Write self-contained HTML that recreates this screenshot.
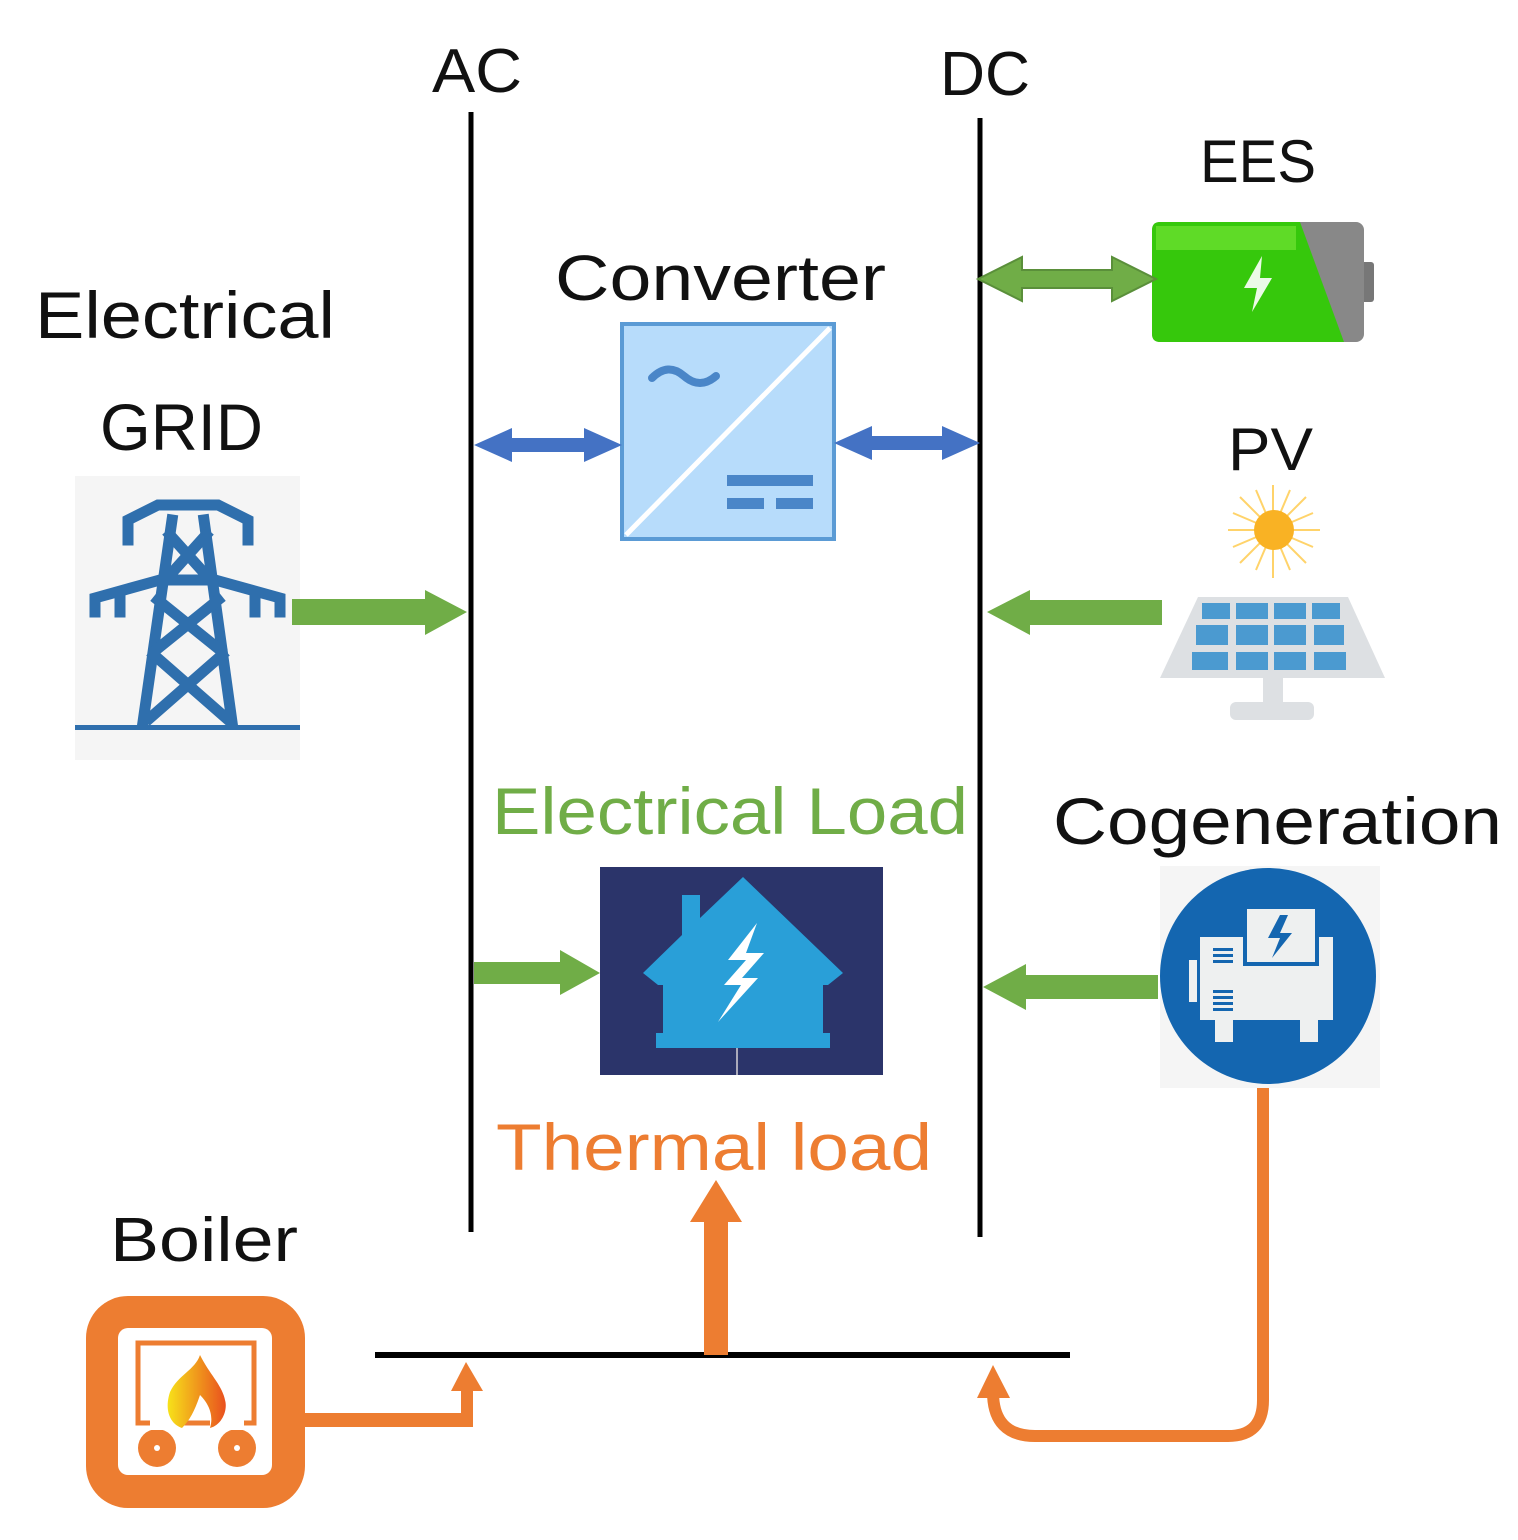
<!DOCTYPE html>
<html><head><meta charset="utf-8"><style>
html,body{margin:0;padding:0;background:#fff;}
svg{display:block;}
text{font-family:"Liberation Sans",sans-serif;}
</style></head><body>
<svg width="1518" height="1540" viewBox="0 0 1518 1540" xmlns="http://www.w3.org/2000/svg">
<!-- labels -->
<text x="432" y="92" font-size="62" textLength="90" lengthAdjust="spacingAndGlyphs" fill="#111">AC</text>
<text x="940" y="95" font-size="62" textLength="90" lengthAdjust="spacingAndGlyphs" fill="#111">DC</text>
<text x="1200" y="182" font-size="60" textLength="116" lengthAdjust="spacingAndGlyphs" fill="#111">EES</text>
<text x="555" y="300" font-size="64" textLength="331" lengthAdjust="spacingAndGlyphs" fill="#111">Converter</text>
<text x="35" y="338" font-size="66" textLength="300" lengthAdjust="spacingAndGlyphs" fill="#111">Electrical</text>
<text x="100" y="450" font-size="66" textLength="163" lengthAdjust="spacingAndGlyphs" fill="#111">GRID</text>
<text x="1228" y="470" font-size="60" textLength="85" lengthAdjust="spacingAndGlyphs" fill="#111">PV</text>
<text x="492" y="834" font-size="66" textLength="476" lengthAdjust="spacingAndGlyphs" fill="#70ad47">Electrical Load</text>
<text x="1053" y="844" font-size="66" textLength="449" lengthAdjust="spacingAndGlyphs" fill="#111">Cogeneration</text>
<text x="496" y="1170" font-size="66" textLength="436" lengthAdjust="spacingAndGlyphs" fill="#ed7d31">Thermal load</text>
<text x="110" y="1261" font-size="62" textLength="188" lengthAdjust="spacingAndGlyphs" fill="#111">Boiler</text>

<!-- buses -->
<line x1="471" y1="112" x2="471" y2="1232" stroke="#000" stroke-width="5"/>
<line x1="980" y1="118" x2="980" y2="1237" stroke="#000" stroke-width="5"/>
<line x1="375" y1="1355" x2="1070" y2="1355" stroke="#000" stroke-width="6"/>

<!-- battery -->
<rect x="1352" y="262" width="22" height="40" rx="3" fill="#777"/>
<rect x="1152" y="222" width="212" height="120" rx="8" fill="#888"/>
<path d="M1160 222 L1300 222 L1344 342 L1160 342 Q1152 342 1152 334 L1152 230 Q1152 222 1160 222 Z" fill="#36c80c"/>
<rect x="1156" y="226" width="140" height="24" fill="#7ce83a" opacity="0.6"/>
<path d="M1262 256 L1244 288 L1257 288 L1252 312 L1272 278 L1260 278 Z" fill="#fff" opacity="0.9"/>
<path d="M978 279 L1022 257 L1022 270 L1112 270 L1112 257 L1156 279 L1112 301 L1112 288 L1022 288 L1022 301 Z" fill="#70ad47" stroke="#5a8f3a" stroke-width="2"/>

<!-- converter -->
<rect x="622" y="324" width="212" height="215" fill="#b7dcfb" stroke="#5b9bd5" stroke-width="4"/>
<line x1="626" y1="535" x2="830" y2="328" stroke="#fff" stroke-width="5"/>
<path d="M652 378 Q668 362 684 376 Q700 390 716 376" fill="none" stroke="#4a86c8" stroke-width="8" stroke-linecap="round"/>
<rect x="727" y="475" width="86" height="11" fill="#4a86c8"/>
<rect x="727" y="498" width="37" height="11" fill="#4a86c8"/>
<rect x="776" y="498" width="37" height="11" fill="#4a86c8"/>
<path d="M474 445 L512 428 L512 438 L584 438 L584 428 L622 445 L584 462 L584 452 L512 452 L512 462 Z" fill="#4472c4"/>
<path d="M834 443 L872 426 L872 436 L942 436 L942 426 L980 443 L942 460 L942 450 L872 450 L872 460 Z" fill="#4472c4"/>

<!-- tower -->
<rect x="75" y="476" width="225" height="284" fill="#f5f5f5"/>
<g stroke="#2f6fad" stroke-width="11" fill="none" stroke-linecap="square">
<path d="M128 540 L128 520 L158 505 L218 505 L248 520 L248 540"/>
<path d="M95 612 L95 598 L160 580 L215 580 L280 598 L280 612"/>
<line x1="120" y1="600" x2="120" y2="612"/><line x1="255" y1="600" x2="255" y2="612"/>
<path d="M172 520 L143 722 M204 520 L232 722"/>
<path d="M158 600 L220 650 M218 600 L156 650 M154 655 L226 718 M222 655 L150 718"/>
<path d="M170 535 L206 575 M206 535 L170 575"/>
</g>
<rect x="75" y="725" width="225" height="5" fill="#2f6fad"/>
<path d="M292 599 L425 599 L425 590 L467 612 L425 635 L425 625 L292 625 Z" fill="#70ad47"/>

<!-- PV -->
<g stroke="#ffd36a" stroke-width="2">
<line x1="1273" y1="485" x2="1273" y2="578"/><line x1="1228" y1="530" x2="1320" y2="530"/>
<line x1="1240" y1="497" x2="1306" y2="563"/><line x1="1306" y1="497" x2="1240" y2="563"/>
<line x1="1256" y1="490" x2="1290" y2="570"/><line x1="1290" y1="490" x2="1256" y2="570"/>
<line x1="1233" y1="513" x2="1313" y2="547"/><line x1="1313" y1="513" x2="1233" y2="547"/>
</g>
<circle cx="1274" cy="530" r="20" fill="#f9b224"/>
<path d="M1198 597 L1348 597 L1385 678 L1160 678 Z" fill="#dde0e3"/>
<g fill="#4b9ad0">
<rect x="1202" y="603" width="28" height="16"/><rect x="1236" y="603" width="32" height="16"/><rect x="1274" y="603" width="32" height="16"/><rect x="1312" y="603" width="28" height="16"/>
<rect x="1196" y="625" width="32" height="20"/><rect x="1236" y="625" width="32" height="20"/><rect x="1274" y="625" width="32" height="20"/><rect x="1314" y="625" width="30" height="20"/>
<rect x="1192" y="652" width="36" height="18"/><rect x="1236" y="652" width="32" height="18"/><rect x="1274" y="652" width="32" height="18"/><rect x="1314" y="652" width="32" height="18"/>
</g>
<rect x="1263" y="678" width="20" height="28" fill="#dde0e3"/>
<rect x="1230" y="702" width="84" height="18" rx="6" fill="#dde0e3"/>
<path d="M1162 600 L1030 600 L1030 590 L987 612 L1030 635 L1030 625 L1162 625 Z" fill="#70ad47"/>

<!-- house -->
<rect x="600" y="867" width="283" height="208" fill="#2b346a"/>
<path d="M743 877 L843 973 L828 985 L823 985 L823 1033 L830 1033 L830 1048 L656 1048 L656 1033 L663 1033 L663 985 L658 985 L643 973 L682 935 L682 895 L700 895 L700 918 Z" fill="#299fd8"/>
<path d="M757 923 L728 960 L746 960 L724 985 L741 985 L718 1022 L758 978 L742 978 L764 953 L746 953 Z" fill="#fff"/>
<line x1="737" y1="1048" x2="737" y2="1075" stroke="#aab" stroke-width="2"/>
<path d="M474 962 L560 962 L560 950 L600 973 L560 995 L560 984 L474 984 Z" fill="#70ad47"/>

<!-- cogeneration -->
<rect x="1160" y="866" width="220" height="222" fill="#f5f5f5"/>
<circle cx="1268" cy="976" r="108" fill="#1466b0"/>
<g fill="#eef0f0">
<rect x="1200" y="937" width="133" height="83"/>
<rect x="1189" y="960" width="8" height="42"/>
<rect x="1215" y="1020" width="18" height="22"/><rect x="1300" y="1020" width="18" height="22"/>
</g>
<rect x="1243" y="906" width="76" height="60" fill="#1466b0"/>
<rect x="1247" y="909" width="68" height="53" fill="#eef0f0"/>
<path d="M1280 915 L1268 938 L1280 938 L1272 958 L1292 933 L1280 933 L1288 915 Z" fill="#1466b0"/>
<g fill="#1466b0"><rect x="1213" y="948" width="20" height="3"/><rect x="1213" y="954" width="20" height="3"/><rect x="1213" y="960" width="20" height="3"/>
<rect x="1213" y="990" width="20" height="3"/><rect x="1213" y="996" width="20" height="3"/><rect x="1213" y="1002" width="20" height="3"/><rect x="1213" y="1008" width="20" height="3"/></g>
<path d="M1158 975 L1026 975 L1026 964 L983 987 L1026 1010 L1026 999 L1158 999 Z" fill="#70ad47"/>

<!-- thermal -->
<path d="M704 1355 L704 1222 L690 1222 L716 1180 L742 1222 L728 1222 L728 1355 Z" fill="#ed7d31"/>
<!-- boiler -->
<rect x="86" y="1296" width="219" height="212" rx="42" fill="#ed7d31"/>
<rect x="118" y="1328" width="154" height="147" rx="10" fill="#fff"/>
<rect x="138" y="1343" width="116" height="80" fill="none" stroke="#ed7d31" stroke-width="5"/>
<circle cx="157" cy="1448" r="19" fill="#ed7d31"/><circle cx="237" cy="1448" r="19" fill="#ed7d31"/>
<circle cx="157" cy="1448" r="3" fill="#fff"/><circle cx="237" cy="1448" r="3" fill="#fff"/>
<rect x="150" y="1420" width="34" height="10" fill="#fff"/><rect x="210" y="1420" width="34" height="10" fill="#fff"/>
<defs><linearGradient id="fl" x1="0" x2="1"><stop offset="0" stop-color="#f7e21a"/><stop offset="1" stop-color="#e9501e"/></linearGradient></defs>
<path d="M200 1355 C210 1375 222 1385 225 1400 C228 1410 222 1425 210 1428 C215 1412 205 1400 200 1395 C195 1410 190 1420 182 1428 C170 1424 164 1410 170 1392 C178 1375 195 1370 200 1355 Z" fill="url(#fl)"/>
<path d="M305 1420 L467 1420" stroke="#ed7d31" stroke-width="14" fill="none"/>
<path d="M467 1427 L467 1382" stroke="#ed7d31" stroke-width="12" fill="none"/>
<path d="M451 1391 L466 1362 L483 1391 Z" fill="#ed7d31"/>
<path d="M1263 1088 L1263 1400 Q1263 1436 1228 1436 L1035 1436 Q993 1436 993 1392" stroke="#ed7d31" stroke-width="12" fill="none"/>
<path d="M977 1398 L993 1365 L1010 1398 Z" fill="#ed7d31"/>
</svg>
</body></html>
